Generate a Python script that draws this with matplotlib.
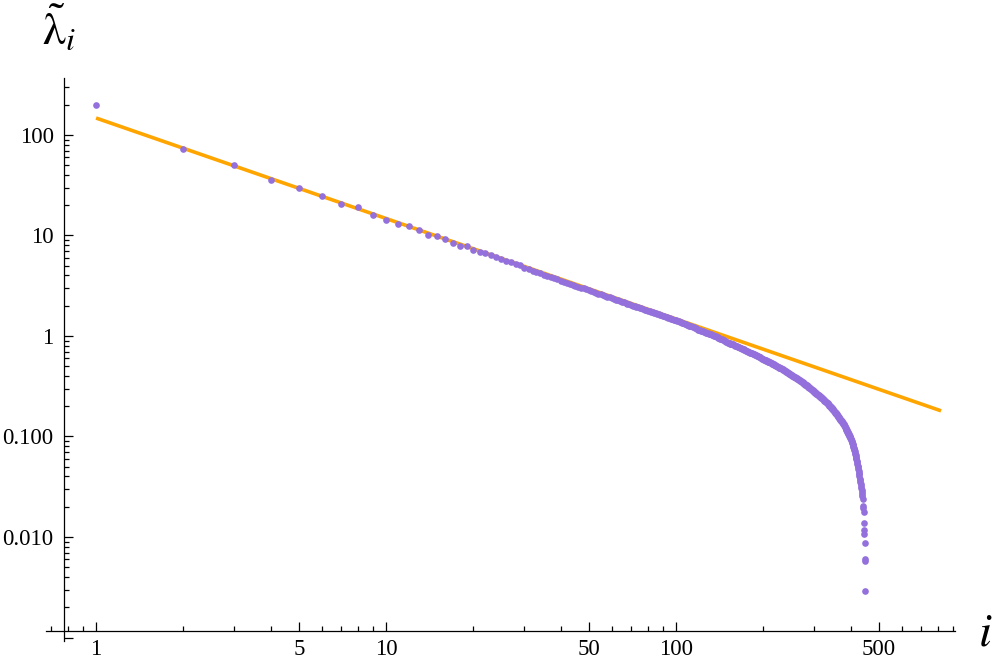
import numpy as np
import matplotlib.pyplot as plt
from matplotlib.ticker import FixedLocator, FixedFormatter, LogLocator, NullFormatter

plt.rcParams['font.family'] = ['Liberation Serif', 'DejaVu Serif']
plt.rcParams['mathtext.fontset'] = 'stix'

# eigenvalues, index i = 1, 2, ...
eig = [
    199, 72.6, 50.2, 35.9, 29.9, 24.5, 20.4, 19.1, 15.9, 14.3,
    13.15, 12.4, 11.3, 10.1, 9.96, 9.23, 8.41, 7.92, 7.82, 7.18,
    6.90, 6.65, 6.44, 6.11, 5.83, 5.61, 5.48, 5.20, 5.08, 4.75,
    4.60, 4.45, 4.32, 4.19, 4.07, 3.96, 3.85, 3.75, 3.65, 3.56,
    3.48, 3.39, 3.31, 3.24, 3.17, 3.10, 3.03, 2.97, 2.91, 2.85,
    2.79, 2.74, 2.69, 2.64, 2.59, 2.54, 2.50, 2.46, 2.42, 2.38,
    2.34, 2.30, 2.26, 2.23, 2.19, 2.16, 2.13, 2.10, 2.07, 2.04,
    2.01, 1.98, 1.95, 1.93, 1.90, 1.88, 1.85, 1.83, 1.80, 1.78,
    1.76, 1.74, 1.72, 1.70, 1.68, 1.66, 1.64, 1.62, 1.60, 1.58,
    1.57, 1.55, 1.53, 1.52, 1.50, 1.48, 1.47, 1.45, 1.44, 1.43,
    1.41, 1.40, 1.38, 1.37, 1.36, 1.34, 1.33, 1.31, 1.30, 1.29,
    1.27, 1.26, 1.25, 1.23, 1.22, 1.20, 1.19, 1.18, 1.16, 1.15,
    1.139, 1.129, 1.120, 1.110, 1.101, 1.092, 1.082, 1.073, 1.064, 1.054,
    1.045, 1.035, 1.026, 1.017, 1.007, 0.998, 0.989, 0.979, 0.970, 0.961,
    0.951, 0.942, 0.932, 0.923, 0.914, 0.904, 0.895, 0.886, 0.876, 0.867,
    0.861, 0.854, 0.848, 0.842, 0.836, 0.829, 0.823, 0.817, 0.810, 0.804,
    0.798, 0.792, 0.785, 0.779, 0.773, 0.767, 0.760, 0.754, 0.748, 0.741,
    0.735, 0.729, 0.723, 0.716, 0.710, 0.705, 0.700, 0.695, 0.690, 0.685,
    0.680, 0.676, 0.671, 0.666, 0.661, 0.656, 0.651, 0.646, 0.641, 0.636,
    0.631, 0.626, 0.621, 0.617, 0.612, 0.607, 0.602, 0.597, 0.592, 0.587,
    0.583, 0.579, 0.576, 0.572, 0.568, 0.564, 0.560, 0.557, 0.553, 0.549,
    0.545, 0.541, 0.538, 0.534, 0.530, 0.526, 0.522, 0.519, 0.515, 0.511,
    0.507, 0.503, 0.500, 0.496, 0.492, 0.489, 0.485, 0.482, 0.479, 0.475,
    0.472, 0.469, 0.465, 0.462, 0.459, 0.455, 0.452, 0.449, 0.446, 0.442,
    0.439, 0.436, 0.432, 0.429, 0.426, 0.422, 0.419, 0.416, 0.412, 0.409,
    0.406, 0.403, 0.401, 0.398, 0.395, 0.392, 0.389, 0.387, 0.384, 0.381,
    0.378, 0.375, 0.373, 0.370, 0.367, 0.364, 0.361, 0.359, 0.356, 0.353,
    0.350, 0.347, 0.345, 0.342, 0.339, 0.337, 0.334, 0.332, 0.329, 0.327,
    0.324, 0.322, 0.319, 0.317, 0.314, 0.312, 0.309, 0.307, 0.304, 0.302,
    0.299, 0.297, 0.294, 0.292, 0.289, 0.287, 0.284, 0.282, 0.279, 0.277,
    0.275, 0.273, 0.271, 0.269, 0.267, 0.265, 0.263, 0.261, 0.259, 0.257,
    0.255, 0.253, 0.252, 0.250, 0.248, 0.246, 0.244, 0.242, 0.240, 0.238,
    0.236, 0.234, 0.232, 0.230, 0.228, 0.226, 0.224, 0.222, 0.220, 0.218,
    0.216, 0.214, 0.213, 0.211, 0.209, 0.207, 0.205, 0.203, 0.201, 0.199,
    0.197, 0.195, 0.194, 0.192, 0.190, 0.188, 0.186, 0.184, 0.182, 0.180,
    0.178, 0.177, 0.175, 0.173, 0.171, 0.170, 0.168, 0.166, 0.165, 0.163,
    0.161, 0.159, 0.158, 0.156, 0.154, 0.152, 0.151, 0.149, 0.147, 0.146,
    0.144, 0.142, 0.140, 0.139, 0.137, 0.135, 0.134, 0.132, 0.130, 0.129,
    0.127, 0.125, 0.124, 0.122, 0.120, 0.119, 0.117, 0.115, 0.114, 0.112,
    0.110, 0.109, 0.107, 0.105, 0.104, 0.102, 0.100, 0.0988, 0.0972, 0.0955,
    0.0937, 0.0919, 0.0900, 0.0882, 0.0864, 0.0846, 0.0828, 0.0810, 0.0791, 0.0773,
    0.0753, 0.0733, 0.0712, 0.0692, 0.0672, 0.0652, 0.0632, 0.0612, 0.0591, 0.0571,
    0.0552, 0.0533, 0.0514, 0.0495, 0.0476, 0.0457, 0.0438, 0.0419, 0.0400, 0.0381,
    0.0366, 0.0351, 0.0336, 0.0321, 0.0306, 0.0293, 0.0280, 0.0266, 0.0253, 0.0240,
    0.0205, 0.0193, 0.0176, 0.0139, 0.0118, 0.0107, 0.0088, 0.0060, 0.0058, 0.0029,
]
idx = np.arange(1, len(eig) + 1)

# power-law fit line (end points)
fit_i = [1, 820]
fit_val = [147.5, 0.18]

xticks = [1, 5, 10, 50, 100, 500]
xtick_labels = ['1', '5', '10', '50', '100', '500']
yticks = [0.001, 0.01, 0.1, 1, 10, 100]
ytick_labels = ['', '0.010', '0.100', '1', '10', '100']

fig = plt.figure(figsize=(9.96, 6.67), dpi=100)
ax = fig.add_axes([46 / 996, 26 / 667, 909 / 996, 563 / 667])
ax.set_xscale('log')
ax.set_yscale('log')
ax.set_xlim(0.672, 916)
ax.set_ylim(0.000923, 369)

ax.plot(fit_i, fit_val, color='#FFA500', lw=2.6, solid_capstyle='butt', zorder=2)
ax.plot(idx, eig, 'o', color='#9370DB', ms=4.8, mew=0, zorder=3)

for s in ['top', 'right']:
    ax.spines[s].set_visible(False)
ax.spines['left'].set_position(('data', 0.776))
ax.spines['bottom'].set_position(('data', 0.00116))
for s in ['left', 'bottom']:
    ax.spines[s].set_linewidth(0.9)

ax.xaxis.set_major_locator(FixedLocator(xticks))
ax.xaxis.set_major_formatter(FixedFormatter(xtick_labels))
ax.xaxis.set_minor_locator(LogLocator(base=10, subs=[2, 3, 4, 6, 7, 8, 9], numticks=100))
ax.xaxis.set_minor_formatter(NullFormatter())
ax.yaxis.set_major_locator(FixedLocator(yticks))
ax.yaxis.set_major_formatter(FixedFormatter(ytick_labels))
ax.yaxis.set_minor_locator(LogLocator(base=10, subs=np.arange(2, 10), numticks=100))
ax.yaxis.set_minor_formatter(NullFormatter())

ax.tick_params(which='both', direction='in', width=0.9, labelsize=16.5)
ax.tick_params(which='major', length=6.5)
ax.tick_params(which='minor', length=3.6)
ax.tick_params(axis='x', pad=5.5)
ax.tick_params(axis='y', pad=7.5)

fig.text(42 / 996, 1 - 4 / 667, r'$\tilde{\mathrm{\lambda}}_{i}$', fontsize=33, ha='left', va='top')
fig.text(978 / 996, 1 - 646 / 667, r'$i$', fontsize=34, ha='left', va='baseline')

fig.savefig('out.png', dpi=100)
